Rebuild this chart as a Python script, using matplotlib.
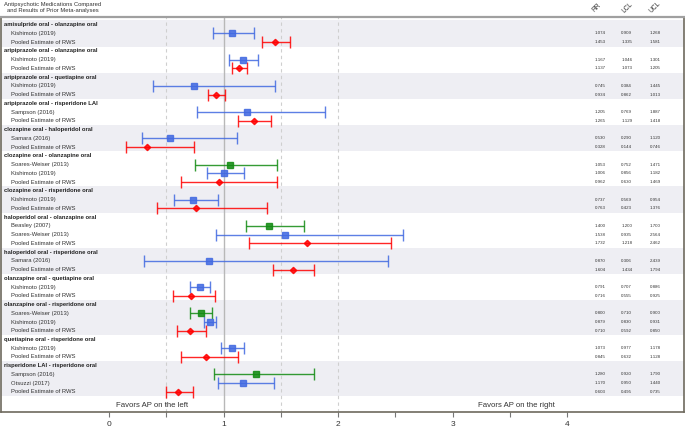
import matplotlib.pyplot as plt
from matplotlib.ticker import FixedLocator

plt.rcParams['font.family'] = ['Liberation Sans', 'DejaVu Sans']

# comparisons and how many estimates sit under each one
comparisons = ['amisulpride oral - olanzapine oral',
               'aripiprazole oral - olanzapine oral',
               'aripiprazole oral - quetiapine oral',
               'aripiprazole oral - risperidone LAI',
               'clozapine oral - haloperidol oral',
               'clozapine oral - olanzapine oral',
               'clozapine oral - risperidone oral',
               'haloperidol oral - olanzapine oral',
               'haloperidol oral - risperidone oral',
               'olanzapine oral - quetiapine oral',
               'olanzapine oral - risperidone oral',
               'quetiapine oral - risperidone oral',
               'risperidone LAI - risperidone oral']
n_rows = [2, 2, 2, 2, 2, 3, 2, 3, 2, 2, 3, 2, 3]

pooled = 'Pooled Estimate of RWS'
studies = ['Kishimoto (2019)', pooled,
           'Kishimoto (2019)', pooled,
           'Kishimoto (2019)', pooled,
           'Sampson (2016)', pooled,
           'Samara (2016)', pooled,
           'Soares-Weiser (2013)', 'Kishimoto (2019)', pooled,
           'Kishimoto (2019)', pooled,
           'Beasley (2007)', 'Soares-Weiser (2013)', pooled,
           'Samara (2016)', pooled,
           'Kishimoto (2019)', pooled,
           'Soares-Weiser (2013)', 'Kishimoto (2019)', pooled,
           'Kishimoto (2019)', pooled,
           'Sampson (2016)', 'Otsuzzi (2017)', pooled]
rr = [1.074, 1.453, 1.167, 1.137, 0.745, 0.934, 1.205, 1.265, 0.530, 0.328,
      1.053, 1.006, 0.962, 0.737, 0.763, 1.400, 1.538, 1.732, 0.870, 1.604,
      0.791, 0.716, 0.800, 0.879, 0.710, 1.073, 0.845, 1.280, 1.170, 0.603]
lcl = [0.909, 1.335, 1.046, 1.073, 0.384, 0.862, 0.769, 1.129, 0.290, 0.144,
       0.752, 0.856, 0.630, 0.569, 0.423, 1.200, 0.935, 1.218, 0.306, 1.434,
       0.707, 0.555, 0.710, 0.830, 0.592, 0.977, 0.632, 0.920, 0.950, 0.495]
ucl = [1.268, 1.581, 1.301, 1.205, 1.445, 1.013, 1.887, 1.418, 1.120, 0.746,
       1.471, 1.182, 1.469, 0.954, 1.376, 1.700, 2.564, 2.462, 2.439, 1.794,
       0.886, 0.925, 0.900, 0.931, 0.850, 1.178, 1.128, 1.790, 1.440, 0.735]
kind = ['b', 'r', 'b', 'r', 'b', 'r', 'b', 'r', 'b', 'r',
        'g', 'b', 'r', 'b', 'r', 'g', 'b', 'r', 'b', 'r',
        'b', 'r', 'g', 'b', 'r', 'b', 'r', 'g', 'b', 'r']

col_names = ['RR', 'LCL', 'UCL']

colors = {'b': '#4169e1', 'r': '#ff0000', 'g': '#118a11'}
markers = {'b': 's', 'r': 'D', 'g': 's'}
band = '#eeeef3'
txt = '#333333'

fig = plt.figure(figsize=(6.85, 4.28), dpi=100)
ax = fig.add_axes([1 / 685, 16 / 428, 683 / 685, 395 / 428])

row = 0
i = 0
for g, name in enumerate(comparisons):
    if g % 2 == 0:
        ax.axhspan(row - 0.5, row + n_rows[g] + 0.5, color=band, lw=0, zorder=0)
    ax.text(-0.917, row, name, fontsize=4.2, fontweight='bold', color='#222222',
            va='center', ha='left')
    row += 1
    for k in range(n_rows[g]):
        c = colors[kind[i]]
        ax.errorbar(rr[i], row, xerr=[[rr[i] - lcl[i]], [ucl[i] - rr[i]]],
                    fmt=markers[kind[i]], color=c, ecolor=c, elinewidth=1.0,
                    capsize=4.5, capthick=1.0, markersize=3.8 if kind[i] != 'r' else 3.2,
                    alpha=0.85, zorder=3)
        ax.text(-0.856, row, studies[i], fontsize=4.2, color=txt, va='center', ha='left')
        for xc, v in zip([4.29, 4.52, 4.77], [rr[i], lcl[i], ucl[i]]):
            ax.text(xc, row, f'{v:.3f}', fontsize=3.2, color=txt, va='center', ha='center')
        row += 1
        i += 1

# reference lines
ax.axvline(1, color='#b8b8b8', lw=1.0, zorder=1)
for xv in [0.5, 1.5, 2]:
    ax.axvline(xv, color='#cfcfcf', lw=0.8, ls=(0, (3, 3)), zorder=1)

ax.text(0.38, row + 0.5, 'Favors AP on the left', fontsize=5.6, color=txt,
        ha='center', va='center')
ax.text(3.56, row + 0.5, 'Favors AP on the right', fontsize=5.6, color=txt,
        ha='center', va='center')

# column titles and header above the frame
for xc, name in zip([4.26, 4.53, 4.77], col_names):
    ax.text(xc, -2.0, name, fontsize=4.8, color=txt, rotation=45,
            ha='center', va='center', clip_on=False)
ax.text(-0.49, -2.0, 'Antipsychotic Medications Compared\nand Results of Prior Meta-analyses',
        fontsize=4.2, color=txt, ha='center', va='center', multialignment='center',
        linespacing=1.15, clip_on=False)

ax.set_xlim(-0.943, 5.02)
ax.set_ylim(44.29, -0.88)
ax.set_yticks([])
ax.set_xticks([0, 1, 2, 3, 4])
ax.xaxis.set_minor_locator(FixedLocator([0.5, 1.5, 2.5, 3.5]))
ax.tick_params(axis='x', which='major', length=3.5, width=0.8, color='#777777',
               labelsize=6, labelcolor=txt, pad=3)
ax.tick_params(axis='x', which='minor', length=3.5, width=0.8, color='#777777')

for s in ['left', 'right', 'bottom']:
    ax.spines[s].set_color('#6e6a5e')
    ax.spines[s].set_linewidth(1.2)
ax.spines['top'].set_color('#a0a0a0')
ax.spines['top'].set_linewidth(1.6)

fig.savefig('out.png', dpi=100)
